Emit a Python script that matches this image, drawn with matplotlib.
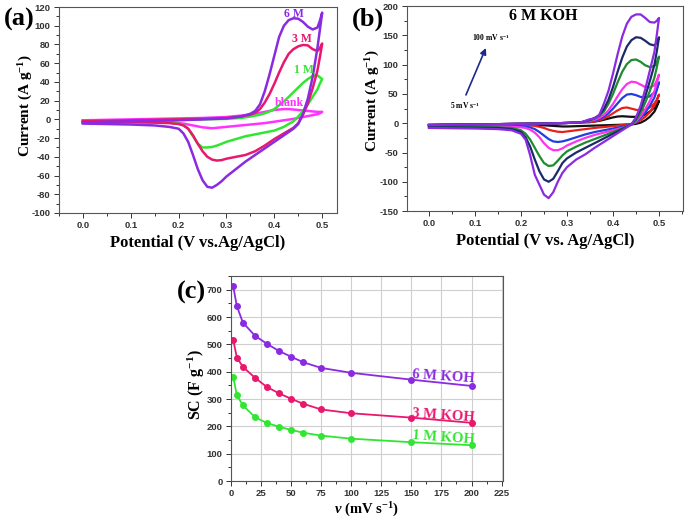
import matplotlib
matplotlib.use("Agg")
import matplotlib.pyplot as plt
from matplotlib.ticker import MultipleLocator

plt.rcParams['font.family'] = ['Liberation Sans', 'DejaVu Sans']
plt.rcParams['axes.unicode_minus'] = False
plt.rcParams['mathtext.fontset'] = 'custom'
plt.rcParams['mathtext.rm'] = 'Liberation Serif:bold'
plt.rcParams['mathtext.it'] = 'Liberation Serif:bold:italic'
plt.rcParams['mathtext.bf'] = 'Liberation Serif:bold'

# ---- potential grids (V vs Ag/AgCl) ----
E_fwd = [0.0, 0.05, 0.10, 0.15, 0.20, 0.25, 0.30, 0.33, 0.35, 0.36, 0.37, 0.38, 0.39,
         0.40, 0.41, 0.42, 0.43, 0.44, 0.45, 0.46, 0.47, 0.48, 0.49, 0.495, 0.50]
E_rev = [0.50, 0.495, 0.49, 0.48, 0.47, 0.46, 0.45, 0.44, 0.42, 0.40, 0.38, 0.36, 0.34,
         0.32, 0.30, 0.29, 0.28, 0.27, 0.26, 0.25, 0.24, 0.23, 0.22, 0.21, 0.20, 0.18,
         0.15, 0.10, 0.05, 0.0]

# ---- (a) CV at different KOH concentrations ----
conc_labels = ['blank', '1 M', '3 M', '6 M']
conc_colors = ['#ff33ff', '#33e533', '#e8186e', '#8a2be2']
blank_fwd = [-1, -0.5, 0, 0.5, 1, 1.5, 2.5, 4, 5, 6, 7, 8, 9, 10, 10.5, 11, 11, 10.5, 10,
             9.5, 9, 8.5, 8, 8, 8]
blank_rev = [8, 6.5, 5.5, 4.5, 3.5, 2.5, 1.5, 0.5, -1, -2.5, -4, -5, -6, -7, -8, -8.5, -9,
             -9.5, -9, -8.5, -7.5, -6.5, -5.5, -4.5, -4, -3, -2, -1.5, -1, -1]
m1_fwd = [-2.5, -2, -1.5, -1, -0.5, 0, 0.5, 1.5, 3, 4, 5, 6.5, 8.5, 11, 15, 19, 24, 29, 34,
          39, 43, 46.5, 47, 45, 43]
m1_rev = [43, 38, 32, 24, 16, 9, 3, -2, -8, -12, -14, -16, -18, -21, -24, -26, -28, -29.5,
          -30, -30, -26, -18, -10, -6, -4.5, -3.5, -3, -3, -3, -3]
m3_fwd = [-2, -1.5, -1, -0.5, 0, 0.5, 1.5, 3, 5, 7, 11, 18, 27, 38, 50, 61, 70, 75, 78,
          79.5, 79, 75, 73, 76, 81]
m3_rev = [81, 66, 52, 33, 17, 5, -4, -9, -15, -21, -28, -34, -38, -40, -42, -43.5, -44, -43,
          -40, -34, -26, -17, -10, -6.5, -5, -4, -3.5, -3, -3, -3]
m6_fwd = [-3.5, -2.5, -2, -1.5, -1, 0, 1, 3, 6, 9, 16, 30, 48, 68, 88, 100, 106, 108, 107.5,
          104, 99, 96, 98, 105, 114]
m6_rev = [114, 95, 76, 45, 22, 6, -5, -10, -17, -24, -31, -38, -45, -53, -61, -66, -70, -73,
          -72, -65, -53, -38, -24, -15, -10, -8, -6.5, -5.5, -5, -4.5]
conc_fwd = [blank_fwd, m1_fwd, m3_fwd, m6_fwd]
conc_rev = [blank_rev, m1_rev, m3_rev, m6_rev]

# ---- (b) CV of 6 M KOH at scan rates 5 -> 100 mV/s ----
rate_colors = ['#111111', '#e8201c', '#1f3fe0', '#ff33ee', '#1e8c2e', '#1b2a6b', '#8a2be2']
low_fwd = [-3, -2.5, -2, -1.5, -1, -0.5, 0.5, 1.5]   # shared flat part, 0 .. 0.33 V
s5_fwd = low_fwd + [2, 3, 4, 6, 8, 10, 11.5, 12, 11.5, 11, 11, 12, 15, 20, 27, 32, 38]
s10_fwd = low_fwd + [2, 3, 5, 8, 12, 17, 22, 26, 27, 25, 23, 22, 23, 27, 34, 40, 49]
s20_fwd = low_fwd + [3, 5, 7, 11, 17, 25, 34, 43, 49, 50, 48, 45, 44, 46, 53, 60, 70]
s30_fwd = low_fwd + [4, 6, 9, 14, 22, 33, 46, 58, 67, 71, 70, 66, 62, 61, 65, 73, 83]
s50_fwd = low_fwd + [5, 8, 12, 20, 33, 50, 70, 88, 101, 108, 109, 105, 99, 96, 98, 104, 114]
s75_fwd = low_fwd + [6, 9, 14, 24, 40, 62, 88, 112, 131, 142, 147, 146, 141, 135, 133, 138, 147]
s100_fwd = low_fwd + [7, 8, 14, 33, 55, 85, 118, 148, 170, 182, 186, 186, 180, 173, 172, 175, 180]
s5_rev = [38, 28, 20, 11, 5, 1, -1, -2, -2.5, -3, -3.5, -4, -4.5, -5, -5.5, -5.5, -5, -4.5,
          -4, -3.5, -3.5, -3, -3, -3, -3, -3, -3, -3, -3, -3]
s10_rev = [49, 38, 30, 19, 11, 5, 1, -1, -3, -5, -6.5, -8, -10, -12, -14, -15, -14.5, -13,
           -11, -8, -6, -4.5, -3.5, -3, -3, -3, -3, -3, -3, -3]
s20_rev = [70, 56, 44, 30, 18, 9, 2, -2, -6, -9, -12, -15, -19, -24, -29, -31, -32, -31, -27,
           -21, -15, -10, -7, -6, -5, -4.5, -4, -4, -4, -4]
s30_rev = [83, 68, 55, 38, 24, 12, 3, -2, -8, -12, -16, -20, -25, -31, -38, -43, -46, -46,
           -42, -34, -24, -16, -11, -8, -7, -6, -5.5, -5, -5, -5]
s50_rev = [114, 95, 78, 55, 35, 18, 5, -2, -9, -15, -21, -27, -33, -40, -48, -55, -64, -72,
           -73, -68, -56, -42, -28, -18, -12, -8, -7, -6.5, -6, -6]
s75_rev = [147, 122, 100, 72, 46, 24, 8, -2, -10, -18, -26, -34, -42, -50, -60, -68, -82, -95,
           -100, -96, -82, -62, -40, -24, -15, -10, -8, -7.5, -7, -7]
s100_rev = [180, 150, 122, 90, 58, 30, 10, -2, -12, -22, -32, -42, -53, -62, -75, -85, -100,
            -118, -128, -122, -105, -88, -55, -28, -18, -12, -10, -9, -8.5, -8]
rate_fwd = [s5_fwd, s10_fwd, s20_fwd, s30_fwd, s50_fwd, s75_fwd, s100_fwd]
rate_rev = [s5_rev, s10_rev, s20_rev, s30_rev, s50_rev, s75_rev, s100_rev]

# ---- (c) specific capacitance vs scan rate ----
scan_rate = [2, 5, 10, 20, 30, 40, 50, 60, 75, 100, 150, 200]
sc_6M = [712, 640, 580, 532, 502, 476, 455, 435, 414, 396, 371, 348]
sc_3M = [516, 452, 418, 378, 344, 321, 301, 283, 262, 248, 232, 213]
sc_1M = [380, 314, 277, 234, 212, 199, 187, 177, 166, 155, 142, 131]

serif = dict(family='Liberation Serif', weight='bold')


def style_axes(ax):
    for sp in ax.spines.values():
        sp.set_color('#555555')
        sp.set_linewidth(0.8)
    ax.tick_params(which='both', direction='out', top=False, right=False,
                   labelsize=6.8, colors='#333333', width=0.7, pad=2.5)
    ax.tick_params(which='major', length=3.5)
    ax.tick_params(which='minor', length=2)
    for lab in ax.get_xticklabels() + ax.get_yticklabels():
        lab.set_fontweight('bold')


fig = plt.figure(figsize=(6.85, 5.19), dpi=100)

# (a)
axa = fig.add_axes([0.0861, 0.5896, 0.4059, 0.3969])
for fwd, rev, c in zip(conc_fwd, conc_rev, conc_colors):
    axa.plot(E_fwd + E_rev, fwd + rev, color=c, lw=1.8)
axa.set_xlim(-0.05, 0.531)
axa.set_ylim(-100, 120)
axa.xaxis.set_major_locator(MultipleLocator(0.1))
axa.xaxis.set_minor_locator(MultipleLocator(0.05))
axa.yaxis.set_major_locator(MultipleLocator(20))
axa.yaxis.set_minor_locator(MultipleLocator(10))
axa.xaxis.set_major_formatter(plt.FuncFormatter(lambda v, p: f"{v:.1f}"))
style_axes(axa)
axa.set_xlabel('Potential (V vs.Ag/AgCl)', fontsize=12, **serif)
axa.set_ylabel('Current (A g$^{-1}$)', fontsize=11, **serif)
axa.xaxis.set_label_coords(0.5, -0.105)
axa.yaxis.set_label_coords(-0.085, 0.52)
for lab, x, y, c in zip(conc_labels, [0.432, 0.461, 0.457, 0.441],
                        [17, 53, 86, 113], conc_colors):
    axa.text(x, y, lab, color=c, fontsize=8.5, ha='center', va='center', **serif)
fig.text(0.006, 0.963, '(a)', fontsize=19, va='center', **serif)

# (b)
axb = fig.add_axes([0.594, 0.5934, 0.403, 0.3946])
for fwd, rev, c in zip(rate_fwd, rate_rev, rate_colors):
    axb.plot(E_fwd + E_rev, fwd + rev, color=c, lw=1.6)
axb.set_xlim(-0.048, 0.552)
axb.set_ylim(-150, 200)
axb.xaxis.set_major_locator(MultipleLocator(0.1))
axb.xaxis.set_minor_locator(MultipleLocator(0.05))
axb.yaxis.set_major_locator(MultipleLocator(50))
axb.yaxis.set_minor_locator(MultipleLocator(25))
axb.xaxis.set_major_formatter(plt.FuncFormatter(lambda v, p: f"{v:.1f}"))
style_axes(axb)
axb.set_xlabel('Potential (V vs. Ag/AgCl)', fontsize=12, **serif)
axb.set_ylabel('Current (A g$^{-1}$)', fontsize=11, **serif)
axb.xaxis.set_label_coords(0.5, -0.105)
axb.yaxis.set_label_coords(-0.09, 0.54)
axb.text(0.248, 184, '6 M KOH', fontsize=11.5, ha='center', va='center', **serif)
axb.annotate('', xy=(0.126, 133), xytext=(0.078, 44),
             arrowprops=dict(arrowstyle='-|>', color='#1b2a8b', lw=1.2, mutation_scale=9))
axb.text(0.135, 146, '100 mV s$^{-1}$', fontsize=5.5, ha='center', va='center', **serif)
axb.text(0.078, 31, '5 mV s$^{-1}$', fontsize=5.5, ha='center', va='center', **serif)
fig.text(0.513, 0.963, '(b)', fontsize=19, va='center', **serif)

# (c)
axc = fig.add_axes([0.337, 0.0732, 0.397, 0.3948])
axc.grid(True, color='#cfcfcf', lw=0.8)
axc.set_axisbelow(True)
for sc, c in zip([sc_6M, sc_3M, sc_1M], ['#8a2be2', '#e8186e', '#33e533']):
    axc.plot(scan_rate, sc, color=c, lw=1.3, marker='o', ms=4, mec=c, mfc=c)
axc.set_xlim(0, 226)
axc.set_ylim(0, 750)
axc.xaxis.set_major_locator(MultipleLocator(25))
axc.xaxis.set_minor_locator(MultipleLocator(12.5))
axc.yaxis.set_major_locator(MultipleLocator(100))
axc.yaxis.set_minor_locator(MultipleLocator(50))
style_axes(axc)
axc.set_xlabel(r'$\nu$ (mV s$^{-1}$)', fontsize=10.5, **serif)
axc.set_ylabel('SC (F g$^{-1}$)', fontsize=11.5, **serif)
axc.xaxis.set_label_coords(0.5, -0.095)
axc.yaxis.set_label_coords(-0.088, 0.47)
for lab, y, c in zip(['6 M KOH', '3 M KOH', '1 M KOH'], [383, 240, 158],
                     ['#8a2be2', '#e8186e', '#33e533']):
    axc.text(150.5, y, lab, color=c, fontsize=10.5, rotation=-4,
             ha='left', va='center', **serif)
fig.text(0.258, 0.436, '(c)', fontsize=19, va='center', **serif)

fig.savefig('out.png', dpi=100)
